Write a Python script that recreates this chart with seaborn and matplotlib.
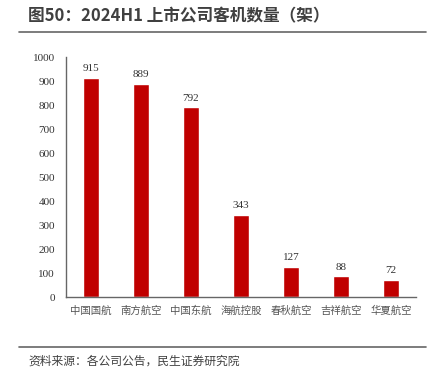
import matplotlib
matplotlib.use('Agg')
import matplotlib.pyplot as plt
import seaborn as sns
import pandas as pd

# 数据
companies = ['中国国航', '南方航空', '中国东航', '海航控股', '春秋航空', '吉祥航空', '华夏航空']
fleet = [915, 889, 792, 343, 127, 88, 72]
yticks = list(range(0, 1001, 100))

sns.set_theme(style='white')
plt.rcParams['font.family'] = ['Noto Sans CJK SC', 'DejaVu Sans']

df = pd.DataFrame({'company': companies, 'fleet': fleet})

fig = plt.figure(figsize=(4.36, 3.76), dpi=100)
ax = fig.add_axes([0.1514, 0.21, 0.803, 0.638])

sns.barplot(data=df, x='company', y='fleet', color='#C00000', width=0.32,
            saturation=1, ax=ax)

for i, v in enumerate(fleet):
    ax.text(i, v + 18, str(v), ha='center', va='bottom', fontsize=8,
            family='Liberation Serif', color='#333333')

ax.set_ylim(0, 1000)
ax.set_yticks(yticks)
ax.set_yticklabels([str(t) for t in yticks], family='Liberation Serif', fontsize=8,
                   color='#333333')
ax.set_xlim(-0.5, len(companies) - 0.5)
ax.tick_params(axis='x', labelsize=7.5, colors='#555555', length=0, pad=6)
ax.tick_params(axis='y', length=0, pad=8)
ax.set_xlabel('')
ax.set_ylabel('')
for s in ['top', 'right']:
    ax.spines[s].set_visible(False)
for s in ['left', 'bottom']:
    ax.spines[s].set_color('#666666')
    ax.spines[s].set_linewidth(1.0)

# 标题与来源
fig.text(28 / 436, 1 - 16 / 376, '图50：2024H1 上市公司客机数量（架）', fontsize=12,
         fontweight='bold', color='#404040', va='center', ha='left')
fig.add_artist(plt.Line2D([19 / 436, 426 / 436], [1 - 32 / 376, 1 - 32 / 376],
                          color='#666666', linewidth=1.2))
fig.add_artist(plt.Line2D([19 / 436, 426 / 436], [1 - 347 / 376, 1 - 347 / 376],
                          color='#666666', linewidth=1.2))
fig.text(28 / 436, 1 - 361 / 376, '资料来源：各公司公告，民生证券研究院', fontsize=8.5,
         color='#404040', va='center', ha='left')

plt.savefig('out.png', dpi=100)
